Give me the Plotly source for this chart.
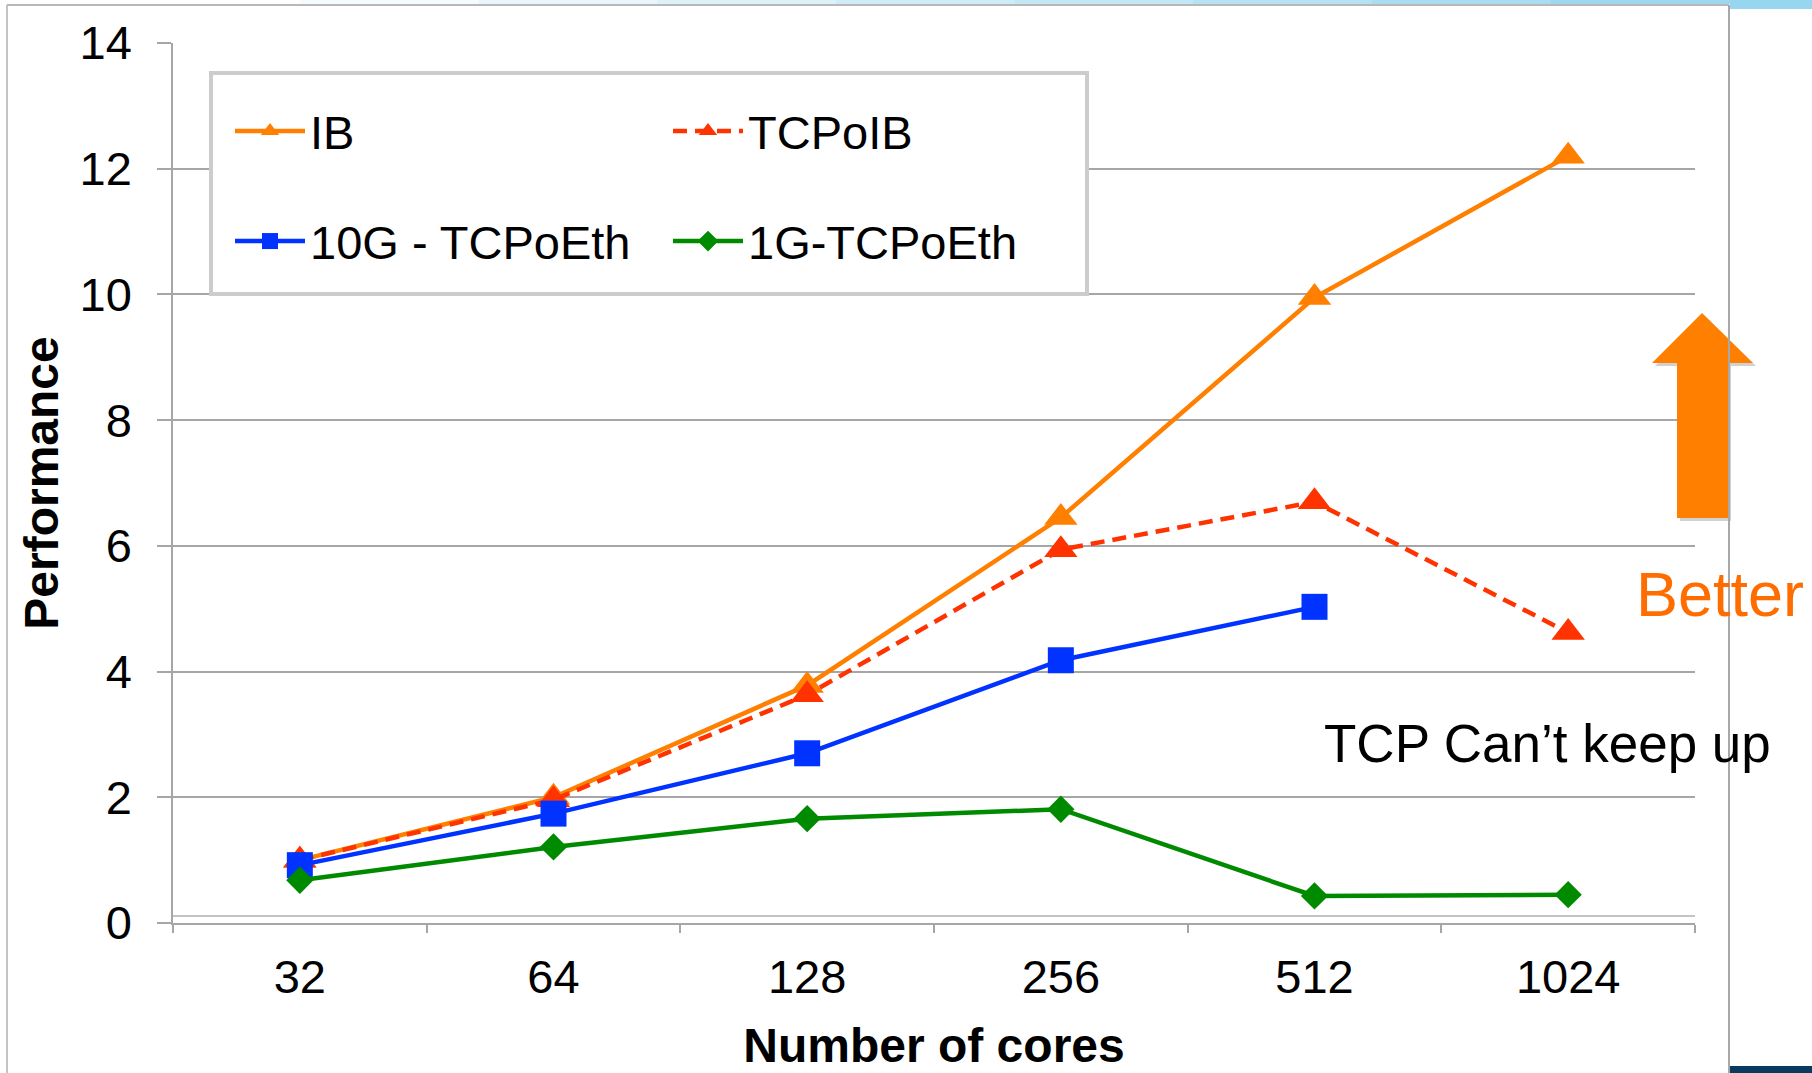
import plotly.graph_objects as go

# Cluster scaling: performance vs. number of cores for four interconnects
cores = ["32", "64", "128", "256", "512", "1024"]
ib = [1.0, 2.0, 3.78, 6.45, 9.95, 12.2]
tcp_o_ib = [1.0, 1.96, 3.63, 5.94, 6.7, 4.62]
ten_g_cores = ["32", "64", "128", "256", "512"]
ten_g_tcp = [0.92, 1.74, 2.7, 4.18, 5.03]
one_g_tcp = [0.68, 1.21, 1.66, 1.81, 0.43, 0.45]

y_ticks = [0, 2, 4, 6, 8, 10, 12, 14]

W, H = 1812, 1073
L, R, T, B = 173, 117, 43, 150
PW, PH = W - L - R, H - T - B
FONT = "Liberation Sans, Arial, sans-serif"


def px(x):
    """Figure pixel column -> paper x."""
    return (x - L) / PW


def py(y):
    """Figure pixel row -> paper y."""
    return (H - B - y) / PH


fig = go.Figure()

fig.add_trace(go.Scatter(
    x=cores, y=ib, name="IB", mode="lines+markers",
    line=dict(color="#FF8000", width=4.5),
    marker=dict(symbol="triangle-up", size=29, color="#FF8000"),
    legend="legend",
))
fig.add_trace(go.Scatter(
    x=cores, y=tcp_o_ib, name="TCPoIB", mode="lines+markers",
    line=dict(color="#FF3300", width=4.5, dash="14px,8px"),
    marker=dict(symbol="triangle-up", size=29, color="#FF3300"),
    legend="legend",
))
fig.add_trace(go.Scatter(
    x=ten_g_cores, y=ten_g_tcp, name="10G - TCPoEth", mode="lines+markers",
    line=dict(color="#0033FF", width=4.5),
    marker=dict(symbol="square", size=26, color="#0033FF"),
    legend="legend2",
))
fig.add_trace(go.Scatter(
    x=cores, y=one_g_tcp, name="1G-TCPoEth", mode="lines+markers",
    line=dict(color="#008A00", width=4.5),
    marker=dict(symbol="diamond", size=21, color="#008A00"),
    legend="legend2",
))

legend_common = dict(
    orientation="h", xanchor="left", yanchor="top",
    bgcolor="rgba(0,0,0,0)", borderwidth=0,
    font=dict(family=FONT, size=47, color="black"),
    itemwidth=70, entrywidth=353, entrywidthmode="pixels",
    itemclick=False, itemdoubleclick=False,
)

shapes = [
    # legend frame
    dict(type="rect", xref="paper", yref="paper",
         x0=px(211), x1=px(1087), y0=py(294), y1=py(73),
         line=dict(color="#CCCCCC", width=4), fillcolor="white", layer="above"),
    # plot-area bottom border just above the category axis
    dict(type="line", xref="paper", yref="paper",
         x0=0, x1=1, y0=py(916), y1=py(916),
         line=dict(color="#B0B0B0", width=1.5), layer="below"),
    # "Better" arrow shadow and arrow
    dict(type="path", xref="paper", yref="paper",
         path=("M {a},{b} L {a},{c} L {d},{c} L {e},{f} L {g},{c} L {h},{c} L {h},{b} Z"
               .format(a=px(1680), b=py(521), c=py(366), d=px(1655), e=px(1705),
                       f=py(316), g=px(1756), h=px(1731))),
         fillcolor="rgba(0,0,0,0.18)", line=dict(width=0), layer="above"),
    dict(type="path", xref="paper", yref="paper",
         path=("M {a},{b} L {a},{c} L {d},{c} L {e},{f} L {g},{c} L {h},{c} L {h},{b} Z"
               .format(a=px(1677), b=py(518), c=py(363), d=px(1652), e=px(1702),
                       f=py(313), g=px(1753), h=px(1728))),
         fillcolor="#FF8000", line=dict(width=0), layer="above"),
    # slide frame
    dict(type="line", xref="paper", yref="paper",
         x0=px(7), x1=px(7), y0=py(5), y1=py(1073),
         line=dict(color="#C4C4C4", width=2), layer="above"),
    dict(type="line", xref="paper", yref="paper",
         x0=px(7), x1=px(1729), y0=py(5), y1=py(5),
         line=dict(color="#B8B8B8", width=2), layer="above"),
    dict(type="line", xref="paper", yref="paper",
         x0=px(1729), x1=px(1729), y0=py(5), y1=py(1073),
         line=dict(color="#A8A8A8", width=2), layer="above"),
    dict(type="rect", xref="paper", yref="paper",
         x0=px(1730), x1=px(1812), y0=py(1073), y1=py(1066),
         fillcolor="#0B3A5E", line=dict(width=0), layer="above"),
    dict(type="rect", xref="paper", yref="paper",
         x0=px(1730), x1=px(1812), y0=py(9), y1=py(0),
         fillcolor="#96D6F0", line=dict(width=0), layer="above"),
]

# light blue header band fading in from the left
band_colors = ["#F6FBFD", "#EAF6FB", "#DDF1F9", "#D0ECF7", "#C3E7F5",
               "#B6E2F4", "#A9DDF2", "#9CD8F0"]
step = (1729 - 300) / len(band_colors)
for i, c in enumerate(band_colors):
    shapes.append(dict(type="rect", xref="paper", yref="paper",
                       x0=px(300 + i * step), x1=px(300 + (i + 1) * step + 1),
                       y0=py(4), y1=py(0), fillcolor=c,
                       line=dict(width=0), layer="above"))

annotations = [
    dict(text="TCP Can’t keep up", xref="paper", yref="paper",
         x=px(1547), y=py(743), xanchor="center", yanchor="middle",
         showarrow=False, font=dict(family=FONT, size=53, color="black")),
    dict(text="Better", xref="paper", yref="paper",
         x=px(1720), y=py(594), xanchor="center", yanchor="middle",
         showarrow=False, font=dict(family=FONT, size=63, color="#FF6D00")),
]

fig.update_layout(
    width=W, height=H,
    margin=dict(l=L, r=R, t=T, b=B, pad=0, autoexpand=False),
    paper_bgcolor="white", plot_bgcolor="white",
    font=dict(family=FONT, color="black"),
    showlegend=True,
    legend=dict(legend_common, x=px(230), y=py(94)),
    legend2=dict(legend_common, x=px(230), y=py(204)),
    shapes=shapes,
    annotations=annotations,
    xaxis=dict(
        type="category", categoryorder="array", categoryarray=cores,
        range=[-0.5, 5.5], automargin=False,
        showline=True, linecolor="#A6A6A6", linewidth=1.5,
        ticks="outside", tickson="boundaries", ticklen=8,
        tickcolor="#A6A6A6", tickwidth=1.5,
        showgrid=False, zeroline=False,
        tickfont=dict(family=FONT, size=47, color="black"),
        ticklabelstandoff=12,
        title=dict(text="<b>Number of cores</b>", standoff=26,
                   font=dict(family=FONT, size=48, color="black")),
    ),
    yaxis=dict(
        range=[0, 14], tickvals=y_ticks, automargin=False,
        showline=True, linecolor="#A6A6A6", linewidth=1.5,
        ticks="outside", ticklen=14, tickcolor="#A6A6A6", tickwidth=1.5,
        showgrid=True, gridcolor="#A6A6A6", gridwidth=1.5,
        zeroline=False,
        tickfont=dict(family=FONT, size=47, color="black"),
        ticklabelstandoff=16,
        title=dict(text="<b>Performance</b>", standoff=6,
                   font=dict(family=FONT, size=48, color="black")),
    ),
)

fig.write_html("out.html")
